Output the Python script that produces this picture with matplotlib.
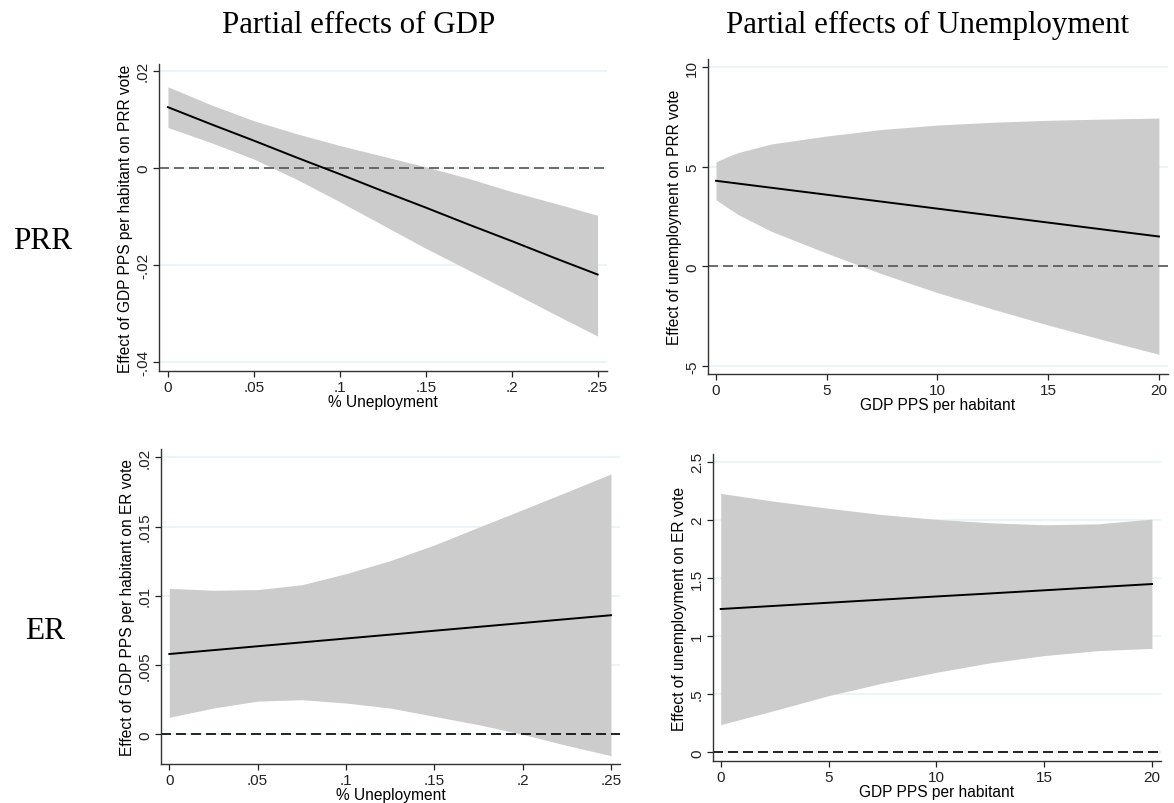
import matplotlib
matplotlib.use("Agg")
import matplotlib.pyplot as plt
from matplotlib.ticker import FuncFormatter

# --- data ---
# top-left: effect of GDP on PRR vote vs % unemployment
tl_x = [0, .025, .05, .075, .1, .125, .15, .175, .2, .225, .25]
tl_line = [.0125, .0090, .0056, .0021, -.0013, -.0048, -.0082, -.0117, -.0151, -.0186, -.0220]
tl_upper = [.0167, .0130, .0097, .0070, .0046, .0024, .0002, -.0022, -.0049, -.0073, -.0098]
tl_lower = [.0083, .0052, .0018, -.0024, -.0070, -.0118, -.0166, -.0211, -.0256, -.0302, -.0347]

# top-right: effect of unemployment on PRR vote vs GDP
tr_x = [0, 0.5, 1, 2.5, 5, 7.5, 10, 12.5, 15, 17.5, 20]
tr_line = [4.30, 4.23, 4.16, 3.95, 3.60, 3.25, 2.90, 2.55, 2.20, 1.85, 1.50]
tr_upper = [5.25, 5.50, 5.72, 6.15, 6.55, 6.88, 7.10, 7.24, 7.34, 7.40, 7.45]
tr_lower = [3.35, 2.97, 2.60, 1.76, 0.66, -0.38, -1.32, -2.15, -2.95, -3.70, -4.42]

# bottom-left: effect of GDP on ER vote vs % unemployment
bl_x = [0, .025, .05, .075, .1, .125, .15, .175, .2, .225, .25]
bl_line = [.0058, .00608, .00636, .00664, .00692, .0072, .00748, .00776, .00804, .00832, .0086]
bl_upper = [.01054, .01040, .01045, .01080, .01160, .01254, .01367, .01495, .01622, .01750, .0188]
bl_lower = [.00123, .0019, .0024, .0025, .00226, .0019, .0013, .0007, .0000, -.0008, -.00154]

# bottom-right: effect of unemployment on ER vote vs GDP
br_x = [0, 2.5, 5, 7.5, 10, 12.5, 15, 17.5, 20]
br_line = [1.233, 1.260, 1.287, 1.314, 1.341, 1.367, 1.394, 1.421, 1.448]
br_upper = [2.228, 2.16, 2.10, 2.045, 2.005, 1.975, 1.958, 1.966, 2.007]
br_lower = [0.238, 0.36, 0.487, 0.595, 0.688, 0.77, 0.832, 0.875, 0.894]

W, H = 1174, 804
fig = plt.figure(figsize=(W / 100, H / 100), dpi=100)
plt.rcParams['font.family'] = ['Liberation Sans', 'DejaVu Sans']


def stata_fmt(v, pos):
    s = ("%g" % round(v, 6))
    if s.startswith("0."):
        s = s[1:]
    elif s.startswith("-0."):
        s = "-" + s[2:]
    return s


def make_ax(left, right, top, bottom):
    return fig.add_axes([left / W, 1 - bottom / H, (right - left) / W, (bottom - top) / H])


def draw_panel(ax, x, line, upper, lower, xlim, ylim, xticks, yticks, xlabel, ylabel, zcol):
    for y in yticks:
        ax.axhline(y, color="#eaf2f3", lw=1.2, zorder=0)
    ax.fill_between(x, lower, upper, color="#cccccc", lw=0, zorder=1)
    ax.axhline(0, color=zcol, lw=1.2, ls=(0, (6, 3)), zorder=2)
    ax.plot(x, line, color="black", lw=1.4, zorder=3)
    ax.set_xlim(*xlim)
    ax.set_ylim(*ylim)
    ax.set_xticks(xticks)
    ax.set_yticks(yticks)
    ax.xaxis.set_major_formatter(FuncFormatter(stata_fmt))
    ax.yaxis.set_major_formatter(FuncFormatter(stata_fmt))
    for lab in ax.get_yticklabels():
        lab.set_rotation(90)
        lab.set_va("center")
    ax.tick_params(direction="out", length=4.5, width=0.9, labelsize=11, pad=2, colors="#222222")
    ax.spines["top"].set_visible(False)
    ax.spines["right"].set_visible(False)
    for s in ("left", "bottom"):
        ax.spines[s].set_color("#333333")
        ax.spines[s].set_linewidth(1.0)
    ax.set_xlabel(xlabel, fontsize=11.2, labelpad=0)
    ax.set_ylabel(ylabel, fontsize=11.2, labelpad=2)


ax1 = make_ax(159, 607, 65, 372)
draw_panel(ax1, tl_x, tl_line, tl_upper, tl_lower, (-0.0052, 0.2555), (-0.0419, 0.0214),
           [0, .05, .1, .15, .2, .25], [-.04, -.02, 0, .02],
           "% Uneployment", "Effect of GDP PPS per habitant on PRR vote", "#555555")

ax2 = make_ax(708, 1168, 60, 375)
draw_panel(ax2, tr_x, tr_line, tr_upper, tr_lower, (-0.36, 20.41), (-5.41, 10.42),
           [0, 5, 10, 15, 20], [-5, 0, 5, 10],
           "GDP PPS per habitant", "Effect of unemployment on PRR vote", "#555555")

ax3 = make_ax(161, 620, 450, 765)
draw_panel(ax3, bl_x, bl_line, bl_upper, bl_lower, (-0.0047, 0.2551), (-0.00214, 0.0206),
           [0, .05, .1, .15, .2, .25], [0, .005, .01, .015, .02],
           "% Uneployment", "Effect of GDP PPS per habitant on ER vote", "black")

ax4 = make_ax(713, 1161, 455, 762)
draw_panel(ax4, br_x, br_line, br_upper, br_lower, (-0.357, 20.42), (-0.075, 2.567),
           [0, 5, 10, 15, 20], [0, .5, 1, 1.5, 2, 2.5],
           "GDP PPS per habitant", "Effect of unemployment on ER vote", "black")

serif = ["Liberation Serif", "DejaVu Serif"]
fig.text(359 / W, 1 - 33 / H, "Partial effects of GDP", family=serif, fontsize=22.2,
         ha="center", va="baseline")
fig.text(928 / W, 1 - 33 / H, "Partial effects of Unemployment", family=serif, fontsize=22.2,
         ha="center", va="baseline")
fig.text(43 / W, 1 - 249 / H, "PRR", family=serif, fontsize=22.5, ha="center", va="baseline")
fig.text(45 / W, 1 - 639 / H, "ER", family=serif, fontsize=22.5, ha="center", va="baseline")

fig.savefig("out.png", dpi=100, facecolor="white")
